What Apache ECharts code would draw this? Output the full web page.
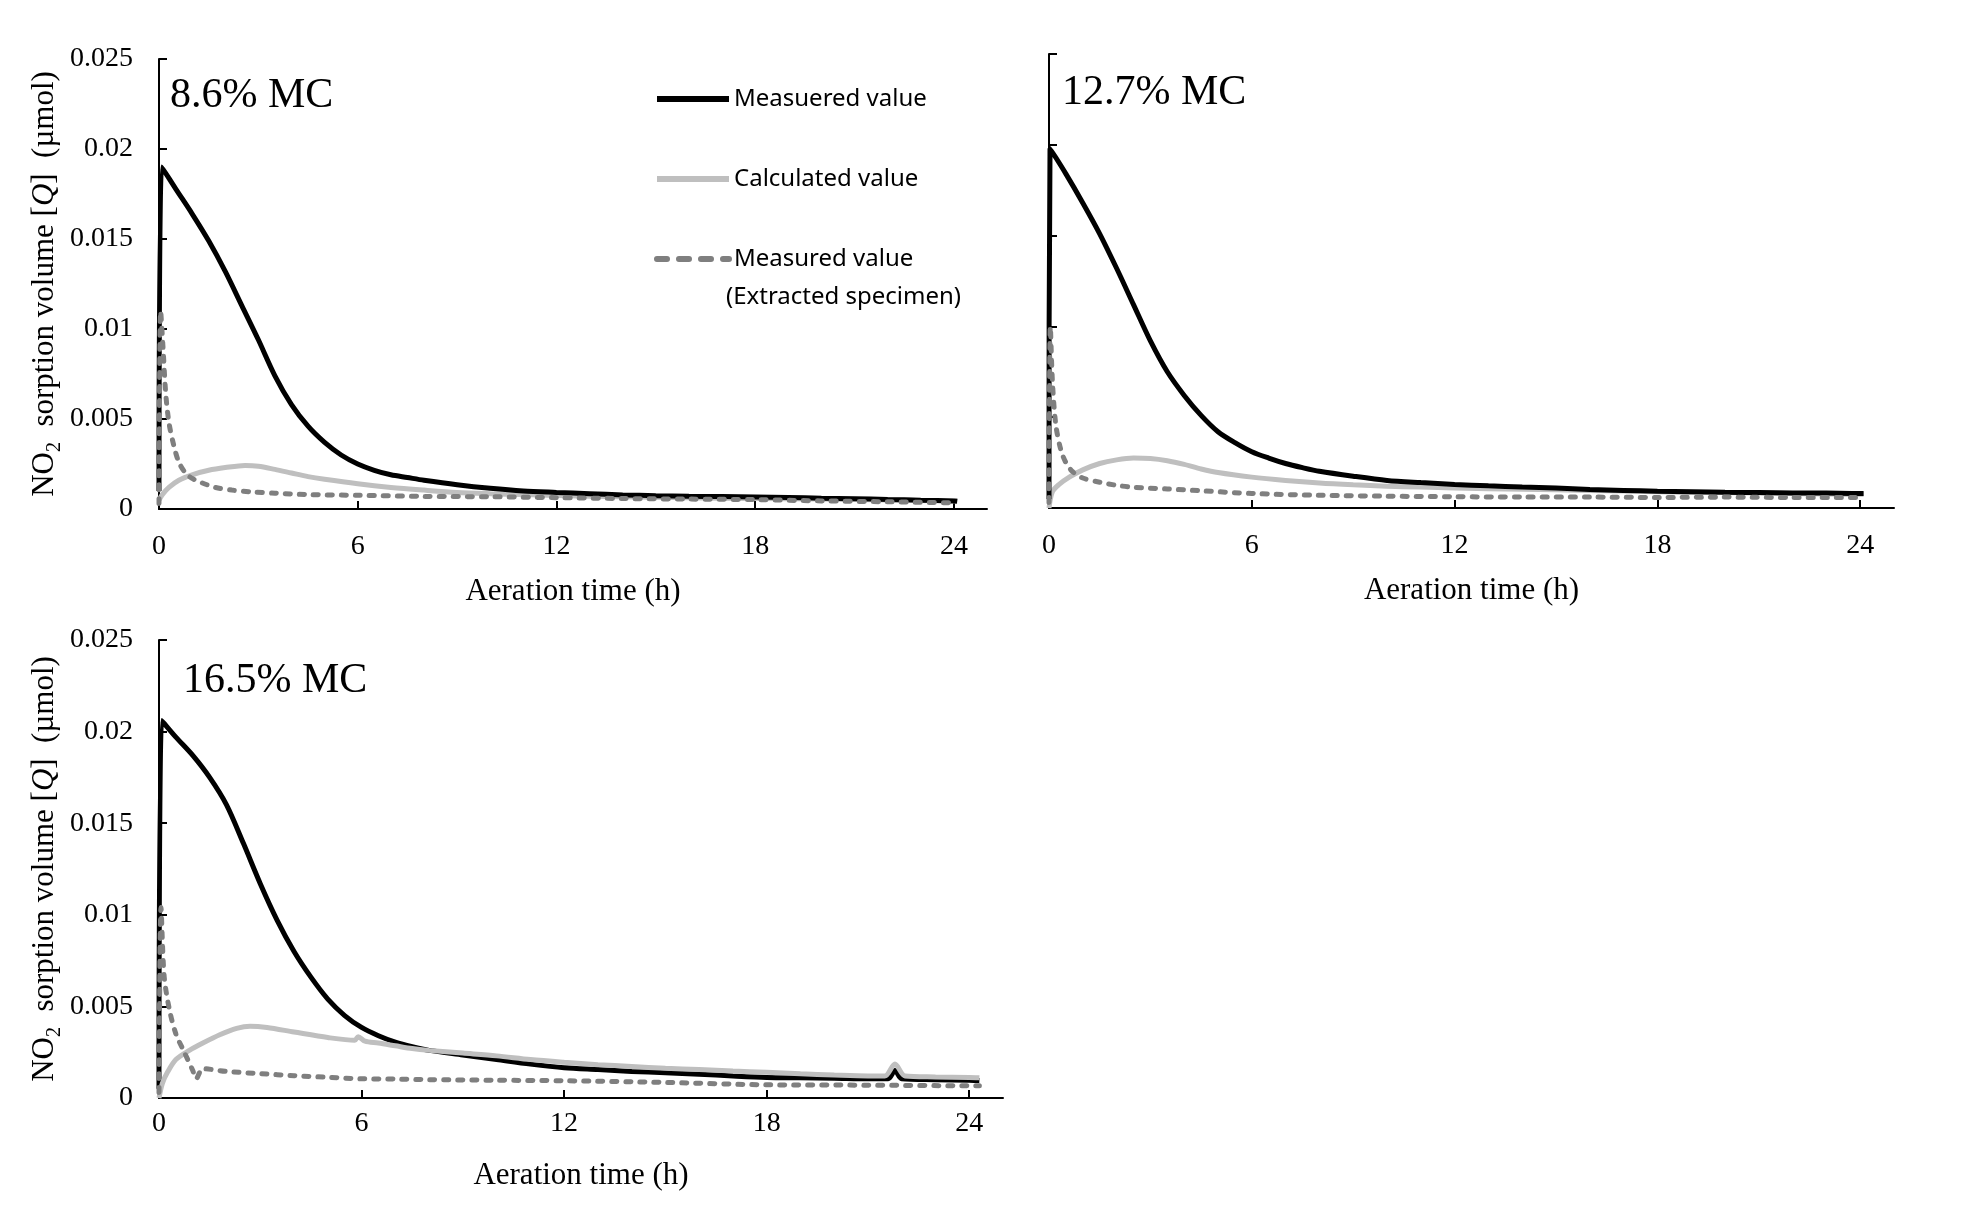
<!DOCTYPE html>
<html>
<head>
<meta charset="utf-8">
<script src="https://cdn.jsdelivr.net/npm/echarts@6/dist/echarts.min.js"></script>
<style>
html, body { margin: 0; padding: 0; background: #fff; }
#chart { width: 1961px; height: 1212px; }
</style>
</head>
<body>
<div id="chart"></div>
<script>
// aeration time (h) / NO2 sorption volume (µmol)
const xTicks = [0, 6, 12, 18, 24]

// 8.6% MC
const t86Meas = [0, 0.08, 0.5, 1, 1.5, 2, 2.5, 3, 3.5, 4, 4.5, 5, 5.5, 6, 6.5, 7, 7.5, 8, 9, 10, 11, 12, 13, 14, 15, 16, 17, 18, 19, 20, 21, 22, 23, 24, 24.1]
const q86Meas = [0.0010, 0.0190, 0.0178, 0.0164, 0.0149, 0.0132, 0.0113, 0.0094, 0.0074, 0.0058, 0.0046, 0.0037, 0.003, 0.0025, 0.00215, 0.0019, 0.00175, 0.0016, 0.00135, 0.00115, 0.001, 0.00092, 0.00085, 0.00078, 0.00074, 0.00071, 0.00069, 0.00067, 0.00064, 0.0006, 0.00057, 0.00053, 0.00049, 0.00045, 0.00043]
const t86Calc = [0, 0.1, 0.3, 0.6, 1, 1.5, 2, 2.6, 3, 3.5, 4, 4.5, 5, 6, 7, 8, 9, 10, 11, 12, 14, 16, 18, 20, 22, 24, 24.1]
const q86Calc = [0.0005, 0.0008, 0.0012, 0.0016, 0.0019, 0.00215, 0.0023, 0.00242, 0.00238, 0.0022, 0.002, 0.0018, 0.00165, 0.0014, 0.0012, 0.00105, 0.00092, 0.00085, 0.0008, 0.00075, 0.00068, 0.00062, 0.00058, 0.00055, 0.0005, 0.00045, 0.00045]
const t86Extr = [0, 0.05, 0.12, 0.2, 0.3, 0.45, 0.6, 0.8, 1, 1.3, 1.7, 2.2, 2.8, 3.5, 4.5, 6, 8, 10, 12, 14, 16, 18, 20, 22, 24, 24.1]
const q86Extr = [0.0003, 0.011, 0.009, 0.0065, 0.0048, 0.0035, 0.0026, 0.002, 0.0017, 0.00145, 0.0012, 0.00105, 0.00095, 0.00088, 0.0008, 0.00076, 0.0007, 0.00068, 0.00063, 0.00058, 0.00055, 0.00052, 0.00045, 0.0004, 0.00035, 0.00035]

// 12.7% MC
const t127Meas = [0, 0.03, 0.5, 1, 1.5, 2, 2.5, 3, 3.5, 4, 4.5, 5, 5.5, 6, 6.5, 7, 7.5, 8, 9, 10, 11, 12, 13, 14, 15, 16, 17, 18, 19, 20, 21, 22, 23, 24, 24.1]
const q127Meas = [0.0005, 0.0198, 0.0184, 0.0168, 0.0151, 0.0132, 0.0112, 0.0092, 0.0075, 0.0062, 0.0051, 0.0042, 0.0036, 0.0031, 0.00275, 0.00245, 0.00222, 0.00202, 0.00175, 0.00152, 0.0014, 0.0013, 0.00122, 0.00115, 0.0011, 0.00102, 0.00097, 0.00092, 0.0009, 0.00087, 0.00085, 0.00083, 0.00082, 0.0008, 0.0008]
const t127Calc = [0, 0.1, 0.3, 0.6, 1, 1.5, 2, 2.5, 3, 3.5, 4, 4.5, 5, 6, 7, 8, 9, 10, 11, 12, 14, 16, 18, 20, 22, 24, 24.1]
const q127Calc = [0, 0.0009, 0.0013, 0.0017, 0.0021, 0.00245, 0.00265, 0.00275, 0.00272, 0.0026, 0.0024, 0.00215, 0.00195, 0.0017, 0.00152, 0.00138, 0.00128, 0.0012, 0.00115, 0.0011, 0.00103, 0.00097, 0.0009, 0.00085, 0.0008, 0.00076, 0.00076]
const t127Extr = [0, 0.04, 0.1, 0.2, 0.35, 0.5, 0.7, 1, 1.5, 2, 2.5, 3.5, 4.5, 6, 8, 10, 12, 14, 16, 18, 20, 22, 24, 24.1]
const q127Extr = [0.0003, 0.01, 0.007, 0.0046, 0.0032, 0.0025, 0.002, 0.00165, 0.00142, 0.00125, 0.00114, 0.00105, 0.00095, 0.0008, 0.0007, 0.00065, 0.00062, 0.0006, 0.0006, 0.00058, 0.0006, 0.00058, 0.00058, 0.00058]

// 16.5% MC
const t165Meas = [0, 0.08, 0.5, 1, 1.5, 2, 2.5, 3, 3.5, 4, 4.5, 5, 5.5, 6, 6.5, 7, 7.5, 8, 9, 10, 11, 12, 13, 14, 15, 16, 17, 18, 19, 20, 21, 21.6, 21.8, 22, 23, 24, 24.3]
const q165Meas = [0.0005, 0.0206, 0.0197, 0.0187, 0.0175, 0.016, 0.0139, 0.0117, 0.0097, 0.008, 0.0066, 0.0054, 0.0045, 0.00385, 0.0034, 0.00305, 0.0028, 0.0026, 0.00235, 0.0021, 0.00185, 0.00165, 0.00155, 0.00145, 0.00138, 0.0013, 0.0012, 0.00112, 0.0011, 0.00108, 0.00105, 0.00105, 0.0015, 0.00105, 0.001, 0.00097, 0.00095]
const t165Calc = [0, 0.1, 0.25, 0.5, 0.9, 1.3, 1.8, 2.3, 2.7, 3.2, 4, 5, 5.8, 5.9, 6.1, 6.5, 7, 7.5, 8, 9, 10, 11, 12, 13, 14, 15, 16, 17, 18, 19, 20, 21, 21.5, 21.8, 22.1, 23, 24, 24.3]
const q165Calc = [0, 0.0008, 0.0014, 0.0021, 0.0026, 0.003, 0.00345, 0.0038, 0.00392, 0.00385, 0.0036, 0.0033, 0.00315, 0.00335, 0.0031, 0.003, 0.00285, 0.0027, 0.0026, 0.00245, 0.0023, 0.0021, 0.00195, 0.00182, 0.00172, 0.00162, 0.00155, 0.00147, 0.0014, 0.00132, 0.00125, 0.0012, 0.0012, 0.00185, 0.0012, 0.00115, 0.00112, 0.0011]
const t165Extr = [0, 0.06, 0.15, 0.3, 0.5, 0.75, 1, 1.1, 1.3, 2, 3, 4, 5, 6, 7, 8, 10, 12, 15, 18, 21, 24, 24.3]
const q165Extr = [0.0003, 0.0104, 0.0067, 0.0049, 0.0035, 0.0025, 0.0015, 0.00105, 0.0016, 0.00145, 0.00133, 0.00122, 0.00113, 0.00105, 0.00103, 0.001, 0.00097, 0.00094, 0.00085, 0.00072, 0.0007, 0.00067, 0.00067]

const serif = '"Liberation Serif", "Times New Roman", serif'
const sans = '"Noto Sans", "Open Sans", sans-serif'

const pts = (t, q) => t.map((x, i) => [x, q[i]])

const timeAxis = (gridIndex, labelMargin, nameGap) => ({
  type: 'value',
  gridIndex,
  min: 0,
  max: 25,
  name: 'Aeration time (h)',
  nameLocation: 'middle',
  nameGap,
  nameTextStyle: { fontFamily: serif, fontSize: 31, color: '#000' },
  axisLine: { onZero: false, lineStyle: { color: '#000', width: 2 } },
  axisTick: { inside: true, length: 8, customValues: xTicks, lineStyle: { color: '#000', width: 2 } },
  axisLabel: { customValues: xTicks, margin: labelMargin, fontFamily: serif, fontSize: 28, color: '#000' },
  splitLine: { show: false }
})

const yName = '{n|NO}{s|2}{n|  sorption volume [}{q|Q}{n|]  (µmol)}'
const yRich = {
  n: { fontFamily: serif, fontSize: 31, lineHeight: 40, color: '#000' },
  s: { fontFamily: serif, fontSize: 20, lineHeight: 20, verticalAlign: 'bottom', color: '#000' },
  q: { fontFamily: serif, fontSize: 31, lineHeight: 40, fontStyle: 'italic', color: '#000' }
}

const qAxis = (gridIndex, withLabels) => ({
  type: 'value',
  gridIndex,
  min: 0,
  max: 0.025,
  interval: 0.005,
  name: withLabels ? yName : '',
  nameLocation: 'middle',
  nameGap: 94,
  nameTextStyle: { fontFamily: serif, fontSize: 31, color: '#000', rich: yRich },
  axisLine: { show: true, onZero: false, lineStyle: { color: '#000', width: 2 } },
  axisTick: { show: true, inside: true, length: 8, lineStyle: { color: '#000', width: 2 } },
  axisLabel: { show: withLabels, margin: 26, fontFamily: serif, fontSize: 28, color: '#000' },
  splitLine: { show: false }
})

const lineSeries = (name, idx, data, style) => ({
  name,
  type: 'line',
  xAxisIndex: idx,
  yAxisIndex: idx,
  data,
  showSymbol: false,
  symbol: 'none',
  smooth: 0.3,
  lineStyle: style
})

const measStyle = { color: '#000000', width: 5 }
const calcStyle = { color: '#bfbfbf', width: 5 }
const extrStyle = { color: '#7f7f7f', width: 5, type: [5, 9], cap: 'round' }

const chart = echarts.init(document.getElementById('chart'))
chart.setOption({
  animation: false,
  backgroundColor: '#fff',
  color: ['#000000', '#bfbfbf', '#7f7f7f'],
  grid: [
    { left: 159, top: 59, width: 828, height: 450 },
    { left: 1049, top: 54, width: 845, height: 454 },
    { left: 159, top: 640, width: 844, height: 458 }
  ],
  xAxis: [timeAxis(0, 24, 67), timeAxis(1, 24, 67), timeAxis(2, 12, 62)],
  yAxis: [qAxis(0, true), qAxis(1, false), qAxis(2, true)],
  legend: {
    orient: 'vertical',
    left: 654,
    top: 87,
    padding: 0,
    itemWidth: 72,
    itemHeight: 24,
    itemGap: 56,
    itemStyle: { opacity: 0 },
    lineStyle: { width: 6 },
    data: [
      'Measuered value',
      'Calculated value',
      { name: 'Measured value', lineStyle: { width: 6, type: [10, 12], cap: 'round' } }
    ],
    textStyle: { fontFamily: sans, fontSize: 24, color: '#000' }
  },
  graphic: [
    { type: 'text', left: 726, top: 285, style: { text: '(Extracted specimen)', font: '24px ' + sans, fill: '#000' } },
    { type: 'text', left: 170, top: 75, style: { text: '8.6% MC', font: '42px ' + serif, fill: '#000' } },
    { type: 'text', left: 1062, top: 72, style: { text: '12.7% MC', font: '42px ' + serif, fill: '#000' } },
    { type: 'text', left: 183, top: 660, style: { text: '16.5% MC', font: '42px ' + serif, fill: '#000' } }
  ],
  series: [
    lineSeries('Calculated value', 0, pts(t86Calc, q86Calc), calcStyle),
    lineSeries('Measuered value', 0, pts(t86Meas, q86Meas), measStyle),
    lineSeries('Measured value', 0, pts(t86Extr, q86Extr), extrStyle),
    lineSeries('Calculated value', 1, pts(t127Calc, q127Calc), calcStyle),
    lineSeries('Measuered value', 1, pts(t127Meas, q127Meas), measStyle),
    lineSeries('Measured value', 1, pts(t127Extr, q127Extr), extrStyle),
    lineSeries('Measuered value', 2, pts(t165Meas, q165Meas), measStyle),
    lineSeries('Calculated value', 2, pts(t165Calc, q165Calc), calcStyle),
    lineSeries('Measured value', 2, pts(t165Extr, q165Extr), extrStyle)
  ]
})
</script>
</body>
</html>
